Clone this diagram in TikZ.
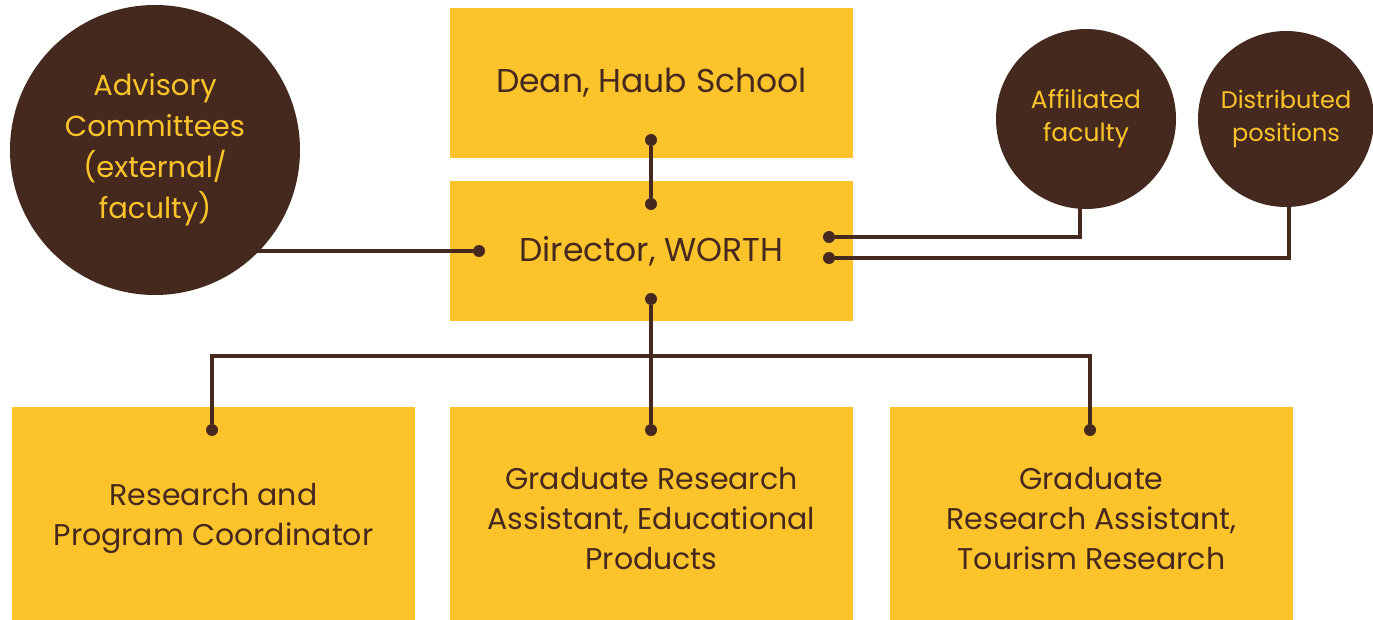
\documentclass[tikz,border=0pt]{standalone}
\usepackage{fontspec}
\setmainfont{Poppins}
\definecolor{gold}{HTML}{FCC42A}
\definecolor{cocoa}{HTML}{45291F}
\tikzset{
  box/.style={fill=gold, text=cocoa, minimum width=403pt, align=center,
    inner sep=0pt, font=\fontsize{30}{40}\selectfont},
  bubble/.style={circle, fill=cocoa, text=gold, align=center, inner sep=0pt},
  link/.style={cocoa, line width=3.2pt},
  dot/.style={circle, fill=cocoa, inner sep=0pt, minimum size=12pt}
}
\begin{document}
\begin{tikzpicture}[x=1pt, y=1pt]
  \useasboundingbox[fill=white] (0,0) rectangle (1373,-620);
  \node[box, minimum height=150pt, font=\fontsize{33}{40}\selectfont] (dean) at (651.5,-83) {Dean, Haub School};
  \node[box, minimum height=139pt, font=\fontsize{33}{40}\selectfont] (director) at (651.5,-251) {Director, WORTH};
  \node[box, minimum height=223pt] (coord) at (213.5,-518.5) {Research and\\Program Coordinator};
  \node[box, minimum height=223pt] (gra) at (651.5,-518.5) {Graduate Research\\Assistant, Educational\\Products};
  \node[box, minimum height=223pt] (grt) at (1091.5,-518.5) {Graduate\\Research Assistant,\\Tourism Research};
  \node[bubble, minimum size=290pt, font=\fontsize{29}{41}\selectfont] (advisory) at (155,-150)
    {Advisory\\Committees\\(external/\\faculty)};
  \node[bubble, minimum size=180pt, font=\fontsize{25}{33}\selectfont] (affiliated) at (1086,-119)
    {Affiliated\\faculty};
  \node[bubble, minimum size=176pt, font=\fontsize{24}{33}\selectfont] (distributed) at (1286,-119)
    {Distributed\\positions};

  \node[dot] (deandot) at (651,-140) {};
  \node[dot] (dirtop) at (651,-204) {};
  \node[dot] (dirleft) at (479,-251) {};
  \node[dot] (dirright1) at (829,-237) {};
  \node[dot] (dirright2) at (829,-258) {};
  \node[dot] (dirbot) at (651,-299) {};
  \node[dot] (coorddot) at (212,-430) {};
  \node[dot] (gradot) at (651,-430) {};
  \node[dot] (grtdot) at (1090,-430) {};
  \coordinate (bus) at (651,-356);
  \coordinate (affend) at (1080,-200);
  \coordinate (distend) at (1289,-200);

  \draw[link] (deandot) -- (dirtop);
  \draw[link] (advisory |- dirleft) -- (dirleft);
  \draw[link] (dirright1) -| (affend);
  \draw[link] (dirright2) -| (distend);
  \draw[link] (dirbot) -- (gradot);
  \draw[link] (coorddot) |- (bus) -| (grtdot);
\end{tikzpicture}
\end{document}
